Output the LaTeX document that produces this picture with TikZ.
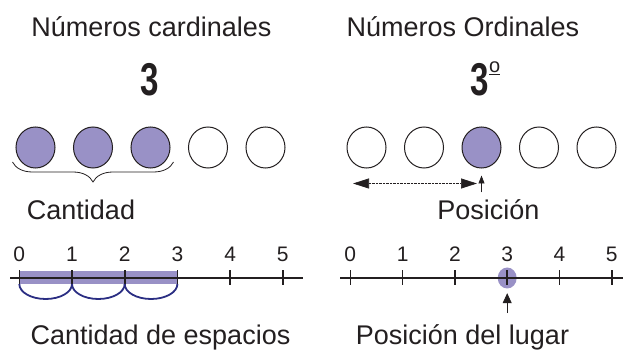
\documentclass[tikz,border=0pt]{standalone}
\usepackage{fontspec}
\setmainfont{Liberation Sans}
\usetikzlibrary{matrix,calc,shapes.geometric,arrows.meta,decorations.pathreplacing}

\definecolor{beadfill}{RGB}{153,145,198}
\definecolor{jumpblue}{RGB}{43,46,131}
\definecolor{inktext}{RGB}{35,31,32}

\begin{document}
\begin{tikzpicture}[x=1pt, y=1pt,
  bead/.style={draw=inktext, line width=1pt, ellipse, minimum width=39pt, minimum height=41pt, inner sep=0pt},
  heading/.style={anchor=base, inner sep=0pt, text=inktext, font=\fontsize{27}{32}\selectfont},
  bignum/.style={anchor=base, inner sep=0pt, text=inktext, font=\fontsize{46}{50}\selectfont\bfseries},
  ticklabel/.style={anchor=base, inner sep=0pt, text=inktext, font=\fontsize{21}{24}\selectfont},
  axis/.style={draw=inktext, line width=1.1pt},
  tick/.style={draw=inktext, line width=1.6pt},
  jump/.style={draw=jumpblue, line width=1.8pt},
  pointer/.style={draw=inktext, line width=0.8pt}]

\useasboundingbox (0,0) rectangle (624,351);

% headings
\node[heading] (cardtitle) at (151.5,314) {Números cardinales};
\node[heading] (ordtitle)  at (463,314)   {Números Ordinales};
\node[bignum]  (cardnum)   at (149.5,255) {\scalebox{0.72}[1]{3}};
\node[bignum]  (ordnum)    at (485.5,255) {\scalebox{0.72}[1]{3}%
  \raisebox{23.5pt}{\fontsize{20}{22}\selectfont\mdseries o}%
  \llap{\raisebox{20.5pt}{\rule{11pt}{1.4pt}}}};

% rows of beads
\matrix (cardrow) [matrix of nodes, nodes in empty cells,
                   nodes={bead}, column sep=17.5pt] at (150.5,203.5) {
|[fill=beadfill]| & |[fill=beadfill]| & |[fill=beadfill]| & & \\
};

\matrix (ordrow) [matrix of nodes, nodes in empty cells,
                  nodes={bead}, column sep=17.5pt] at (481.5,203.5) {
 & & |[fill=beadfill]| & & \\
};

\draw[decorate, decoration={brace, mirror, amplitude=20pt}, draw=inktext, line width=0.8pt]
  ($(cardrow-1-1.west)+(-3,-14.5)$) -- ($(cardrow-1-3.east)+(3,-14.5)$);

\coordinate (backstart) at ($(ordrow-1-1.south)+(-13.5,-15)$);
\coordinate (backend)   at ($(ordrow-1-3.south)+(-4.5,-15)$);
\draw[pointer, line width=0.6pt, dash pattern=on 0.7pt off 0.7pt,
      {Triangle[length=16pt,width=10pt]}-{Triangle[length=16pt,width=10pt]}]
  (backstart) -- (backend);

\coordinate (ordtail) at ($(ordrow-1-3.south)+(0,-24)$);
\draw[pointer, -{Triangle[length=8pt,width=6pt]}, shorten >=7pt]
  (ordtail) -- (ordrow-1-3.south);

\node[heading] (cardlabel) at (81,131)    {Cantidad};
\node[heading] (ordlabel)  at (488.5,131) {Posición};

% number line of amounts
\fill[beadfill] (19.3,67) rectangle (176.7,80);
\draw[axis] (10,73) -- (303,73);
\foreach \n in {0,...,5} {
  \draw[tick] (19.3+52.7*\n,66) -- ++(0,15);
  \node[ticklabel] (cardtick-\n) at (19.3+52.7*\n,89) {\n};
}
\foreach \n in {0,1,2}
  \draw[jump] (19.3+52.7*\n,67) arc[start angle=180, end angle=360, x radius=26.35, y radius=15];

% number line of places
\node[ellipse, fill=beadfill, minimum width=19pt, minimum height=21pt, inner sep=0pt] (spot) at (507.2,73) {};
\draw[axis] (340,73) -- (623,73);
\foreach \n in {0,...,5} {
  \draw[tick] (350.3+52.3*\n,66) -- ++(0,15);
  \node[ticklabel] (ordtick-\n) at (350.3+52.3*\n,89) {\n};
}
\coordinate (spottail) at ($(spot.south)+(0,-24.5)$);
\draw[pointer, -{Triangle[length=10pt,width=9pt]}, shorten >=4.5pt]
  (spottail) -- (spot.south);

\node[heading] (cardfoot) at (160.5,7) {Cantidad de espacios};
\node[heading] (ordfoot)  at (462.5,7) {Posición del lugar};

\end{tikzpicture}
\end{document}
